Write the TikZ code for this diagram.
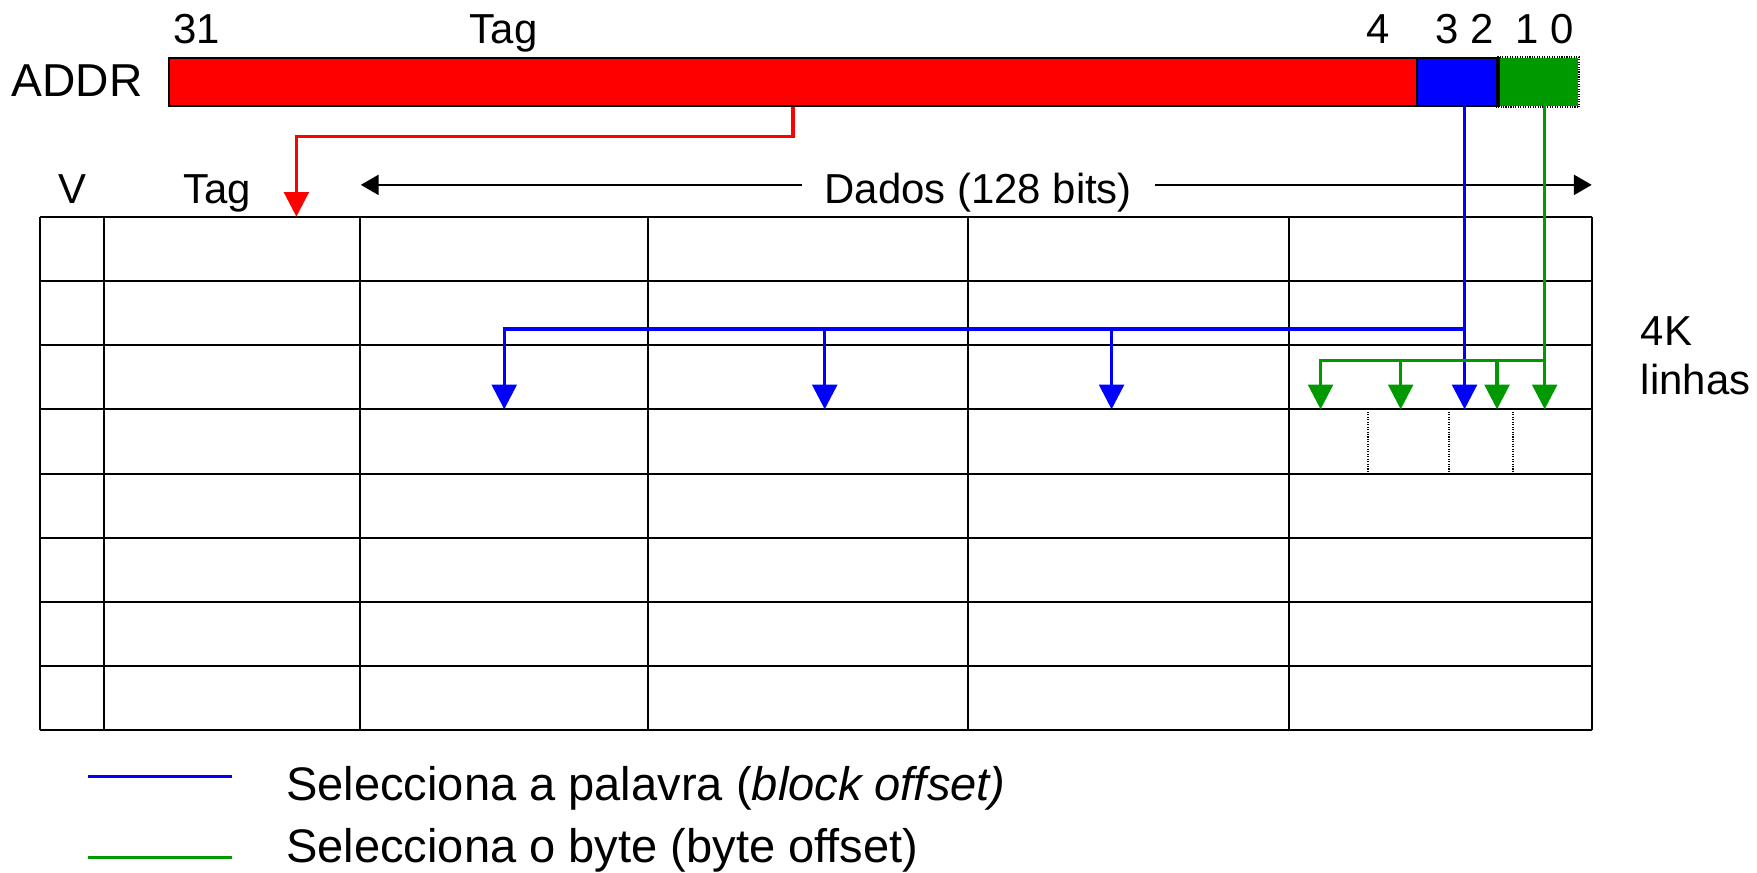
\documentclass[tikz,border=0pt]{standalone}
\usepackage{fontspec}
\setmainfont{Liberation Sans}
\usetikzlibrary{arrows.meta}
\definecolor{cred}{RGB}{255,0,0}
\definecolor{cblue}{RGB}{0,0,255}
\definecolor{cgreen}{RGB}{0,153,0}
\begin{document}
\begin{tikzpicture}[x=0.5pt,y=-0.5pt,
  tbl/.style={line width=0.9pt},
  lbl/.style={font=\fontsize{18.7}{22}\selectfont, inner sep=0pt},
  biglbl/.style={font=\fontsize{20.6}{24}\selectfont, inner sep=0pt},
  leglbl/.style={font=\fontsize{21}{25}\selectfont, inner sep=0pt, anchor=base west},
  fld/.style={draw=black, line width=0.9pt, inner sep=0pt, anchor=north west, minimum height=21.5pt},
  sel/.style={line width=1.5pt},
  tip/.style={-{Triangle[width=11pt,length=11pt]}},
  smalltip/.style={-{Triangle[width=9pt,length=8pt]}},
  dotln/.style={line width=0.8pt, dash pattern=on 0.5pt off 0.6pt}
]
\useasboundingbox (0,0) rectangle (1568,779);

% address fields
\node[fld, fill=cred, minimum width=556.75pt] (tagf) at (150,51) {};
\node[fld, fill=cblue, minimum width=36pt] (blkf) at (1263.5,51) {};
\node[fld, fill=cgreen, draw=none, minimum width=36pt] (bytf) at (1335.5,51) {};
\draw[dotln] (bytf.north west) rectangle (bytf.south east);
\draw[line width=0.9pt] (blkf.north east) -- (blkf.south east);

% labels above
\node[biglbl, anchor=base west] (addr) at (10,86.3) {ADDR};
\node[lbl, anchor=base west] (b31) at (154,39) {31};
\node[lbl, anchor=base west] (tagt) at (419,39) {Tag};
\node[lbl, anchor=base] (b4) at (1230,39) {4};
\node[lbl, anchor=base] (b32) at (1307,39) {3 2};
\node[lbl, anchor=base] (b10) at (1378.6,39) {1 0};

% table header
\node[lbl, anchor=base] (vlbl) at (65,181.5) {V};
\node[lbl, anchor=base west] (taglbl) at (163,181.5) {Tag};
\node[lbl, anchor=base, inner xsep=10pt] (dados) at (873,181.5) {Dados (128 bits)};
\coordinate (dl) at (322,165);
\coordinate (dr) at (1420.5,165);
\draw[line width=0.9pt, smalltip] (dados.west |- dl) -- (dl);
\draw[line width=0.9pt, smalltip] (dados.east |- dr) -- (dr);

% table
\foreach \i in {0,...,8} {
  \draw[tbl] (36,{193.4+57.3*\i}) -- (1421,{193.4+57.3*\i});
}
\foreach \x in {36,93,321,578,864,1150,1421} {
  \draw[tbl] (\x,193.4) -- (\x,651.8);
}
\foreach \x in {1221,1293,1350} {
  \draw[dotln] (\x,365.3) -- (\x,422.6);
}

% 4K linhas
\node[lbl, anchor=base west] (k4) at (1464,308) {4K};
\node[lbl, anchor=base west] (linhas) at (1464,352.5) {linhas};

% red tag connector
\coordinate (rtgt) at (264.5,193.4);
\draw[cred, sel, tip] (tagf.south) |- (264.5,122) -- (rtgt);

% blue connectors
\coordinate (bsrc) at (1307,93.7);
\coordinate (bj) at (1307,293.6);
\coordinate (b1) at (450,365.3);
\coordinate (b2) at (736,365.3);
\coordinate (b3) at (992,365.3);
\coordinate (b4t) at (1307,365.3);
\draw[cblue, sel, tip] (bsrc) -- (b4t);
\draw[cblue, sel, tip] (bj) -| (b1);
\draw[cblue, sel, tip] (b2 |- bj) -- (b2);
\draw[cblue, sel, tip] (b3 |- bj) -- (b3);

% green connectors
\coordinate (gsrc) at (1378.5,93.7);
\coordinate (gj) at (1378.5,321.9);
\coordinate (g1) at (1178.5,365.3);
\coordinate (g2) at (1250,365.3);
\coordinate (g3) at (1336,365.3);
\coordinate (g4) at (1378.5,365.3);
\draw[cgreen, sel, tip] (gsrc) -- (g4);
\draw[cgreen, sel, tip] (gj) -| (g1);
\draw[cgreen, sel, tip] (g2 |- gj) -- (g2);
\draw[cgreen, sel, tip] (g3 |- gj) -- (g3);

% legend
\coordinate (lb1) at (78.5,693);
\coordinate (lb2) at (206.6,693);
\coordinate (lg1) at (78.5,765.5);
\coordinate (lg2) at (206.6,765.5);
\draw[cblue, sel] (lb1) -- (lb2);
\draw[cgreen, sel] (lg1) -- (lg2);
\node[leglbl] (leg1) at (255,714) {Selecciona a palavra (\textit{block offset)}};
\node[leglbl] (leg2) at (255,770) {Selecciona o byte (byte offset)};
\end{tikzpicture}
\end{document}
